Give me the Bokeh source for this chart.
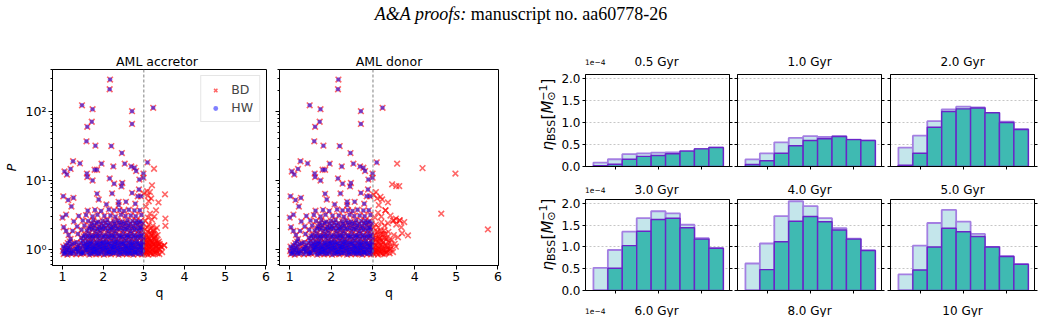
from bokeh.plotting import figure
from bokeh.layouts import column, row
from bokeh.models import (Div, Label, Span, Legend, LegendItem, FixedTicker,
                          CustomJSTickFormatter, LinearAxis)
from bokeh.embed import file_html
from bokeh.resources import INLINE

# ------------------------------------------------------------------ texts
header_italic = "A&amp;A proofs:"
header_plain = "manuscript no. aa60778-26"
scatter_titles = ["AML accretor", "AML donor"]
legend_labels = ["BD", "HW"]

# ------------------------------------------------------------------ scatter data (q, P)
# systems shared by both panels (HW, also BD for q < 3)
hw_q = [
    2.17, 2.16, 1.48, 1.74, 2.71, 3.23, 1.72, 2.71, 1.61, 1.59, 1.81, 2.20, 2.46,
    1.26, 1.43, 1.96, 2.53, 3.09, 2.25, 2.69, 2.77, 1.05, 1.20, 1.11, 1.79, 1.85,
    1.60, 1.61, 2.16, 2.81, 2.99, 2.99, 2.89, 2.47, 2.27, 2.45, 1.74, 2.88, 2.22,
    2.71, 1.02, 1.27, 1.14, 1.89, 2.85, 2.93, 1.85, 2.38, 2.56, 2.79, 2.38, 1.22,
    2.08, 1.09, 1.00, 1.03, 1.09,
    1.03, 1.12, 1.21, 1.34, 1.45, 1.52, 1.66, 1.74, 1.83, 1.91, 2.02, 2.11, 2.19, 2.31, 2.38, 2.47, 2.58, 2.66, 2.74, 2.86, 2.95,
    1.06, 1.17, 1.25, 1.39, 1.48, 1.61, 1.70, 1.79, 1.87, 1.95, 2.07, 2.15, 2.23, 2.27, 2.42, 2.51, 2.55, 2.62, 2.70, 2.78, 2.82, 2.91,
    1.01, 1.08, 1.16, 1.27, 1.38, 1.49, 1.58, 1.69, 1.77, 1.86, 1.97, 2.06, 2.15, 2.24, 2.34, 2.42, 2.53, 2.62, 2.71, 2.79, 2.89, 2.98,
    1.11, 1.22, 1.35, 1.47, 1.60, 1.68, 1.77, 1.85, 1.94, 2.03, 2.12, 2.21, 2.30, 2.39, 2.49, 2.58, 2.67, 2.76, 2.86, 2.96,
    1.05, 1.14, 1.31, 1.43, 1.56, 1.64, 1.73, 1.81, 1.90, 1.99, 2.09, 2.17, 2.27, 2.36, 2.45, 2.55, 2.64, 2.72, 2.82, 2.92,
    1.02, 1.19, 1.36, 1.51, 1.59, 1.67, 1.76, 1.84, 1.93, 2.00, 2.08, 2.19, 2.26, 2.34, 2.43, 2.52, 2.61, 2.69, 2.79, 2.88, 2.97,
    1.09, 1.24, 1.40, 1.53, 1.61, 1.71, 1.79, 1.88, 1.96, 2.04, 2.13, 2.22, 2.30, 2.40, 2.49, 2.57, 2.67, 2.76, 2.85, 2.94,
    1.13, 1.29, 1.45, 1.57, 1.66, 1.74, 1.83, 1.92, 2.00, 2.08, 2.17, 2.26, 2.35, 2.44, 2.53, 2.62, 2.71, 2.80, 2.89, 2.98,
    1.18, 1.35, 1.50, 1.62, 1.70, 1.84, 1.93, 2.01, 2.10, 2.20, 2.29, 2.37, 2.46, 2.56, 2.65, 2.73, 2.83, 2.96,
    1.20, 1.46, 1.57, 1.67, 1.76, 1.87, 1.98, 2.07, 2.16, 2.25, 2.33, 2.43, 2.52, 2.61, 2.70, 2.80, 2.90, 2.99,
    1.52, 1.63, 1.73, 1.82, 1.91, 2.02, 2.12, 2.21, 2.29, 2.39, 2.47, 2.57, 2.66, 2.75, 2.85, 2.94,
    1.15, 1.38, 1.55, 1.65, 1.75, 1.85, 1.94, 2.05, 2.14, 2.23, 2.32, 2.41, 2.50, 2.60, 2.69, 2.78, 2.88, 2.97,
    1.25, 1.47, 1.60, 1.72, 1.81, 1.91, 2.00, 2.11, 2.20, 2.28, 2.38, 2.48, 2.58, 2.67, 2.77, 2.87, 2.95,
    1.66, 1.77, 1.86, 1.96, 2.06, 2.16, 2.25, 2.34, 2.44, 2.54, 2.63, 2.72, 2.82, 2.91,
    1.36, 1.54, 1.68, 1.78, 1.90, 2.02, 2.12, 2.21, 2.31, 2.42, 2.52, 2.62, 2.74, 2.84, 2.93,
    1.72, 1.84, 1.96, 2.07, 2.17, 2.28, 2.39, 2.50, 2.57, 2.67, 2.79, 2.88, 2.97,
    1.28, 1.50, 1.63, 1.76, 1.88, 1.99, 2.10, 2.26, 2.36, 2.47, 2.60, 2.72, 2.82, 2.92,
    1.40, 1.58, 1.74, 1.86, 2.03, 2.18, 2.30, 2.44, 2.55, 2.68, 2.80, 2.94,
    1.62, 1.80, 1.95, 2.14, 2.27, 2.40, 2.51, 2.63, 2.77, 2.90,
]
hw_p = [
    290, 210, 123, 108, 101, 113, 71, 66, 60, 37, 32, 31.5, 25,
    19, 17.7, 17.5, 17.5, 18.3, 16, 16, 15.3, 13.5, 14.7, 12.2, 14.3, 14.3,
    12.6, 11.2, 10.7, 13.7, 12.6, 11.0, 10.3, 9.2, 9.0, 8.2, 10.0, 7.4, 6.5,
    6.6, 5.9, 5.6, 5.2, 5.3, 5.9, 5.9, 6.4, 4.9, 4.9, 4.6, 4.4, 4.2,
    4.5, 3.2, 2.9, 2.1, 1.86,
    0.86, 0.84, 0.87, 0.85, 0.86, 0.88, 0.84, 0.87, 0.85, 0.86, 0.84, 0.87, 0.85, 0.88, 0.84, 0.86, 0.85, 0.87, 0.84, 0.86, 0.85,
    0.89, 0.90, 0.88, 0.91, 0.89, 0.90, 0.88, 0.91, 0.89, 0.90, 0.88, 0.91, 0.89, 0.90, 0.88, 0.91, 0.89, 0.90, 0.88, 0.91, 0.89, 0.90,
    0.95, 0.93, 0.97, 0.94, 0.96, 0.92, 0.98, 0.95, 0.93, 0.97, 0.94, 0.96, 0.92, 0.98, 0.95, 0.93, 0.97, 0.94, 0.96, 0.92, 0.98, 0.95,
    1.00, 0.99, 1.01, 1.00, 0.99, 1.01, 1.00, 0.99, 1.01, 1.00, 0.99, 1.01, 1.00, 0.99, 1.01, 1.00, 0.99, 1.01, 1.00, 0.99,
    1.04, 1.07, 1.02, 1.06, 1.03, 1.08, 1.05, 1.02, 1.07, 1.04, 1.06, 1.03, 1.08, 1.05, 1.02, 1.07, 1.04, 1.06, 1.03, 1.08,
    1.10, 1.11, 1.09, 1.12, 1.10, 1.11, 1.09, 1.12, 1.10, 1.11, 1.09, 1.12, 1.10, 1.11, 1.09, 1.12, 1.10, 1.11, 1.09, 1.12, 1.10,
    1.15, 1.19, 1.14, 1.18, 1.16, 1.20, 1.13, 1.17, 1.21, 1.15, 1.18, 1.14, 1.19, 1.16, 1.20, 1.13, 1.17, 1.15, 1.19, 1.14,
    1.24, 1.23, 1.25, 1.24, 1.23, 1.25, 1.24, 1.23, 1.25, 1.24, 1.23, 1.25, 1.24, 1.23, 1.25, 1.24, 1.23, 1.25, 1.24, 1.23,
    1.30, 1.27, 1.33, 1.29, 1.32, 1.28, 1.34, 1.30, 1.27, 1.33, 1.29, 1.31, 1.28, 1.34, 1.30, 1.27, 1.32, 1.29,
    1.42, 1.47, 1.44, 1.49, 1.43, 1.46, 1.50, 1.42, 1.48, 1.45, 1.41, 1.47, 1.44, 1.49, 1.43, 1.46, 1.48, 1.44,
    1.55, 1.56, 1.54, 1.57, 1.55, 1.56, 1.54, 1.57, 1.55, 1.56, 1.54, 1.57, 1.55, 1.56, 1.54, 1.57,
    1.62, 1.68, 1.64, 1.70, 1.61, 1.66, 1.72, 1.63, 1.69, 1.65, 1.71, 1.62, 1.67, 1.64, 1.70, 1.63, 1.68, 1.66,
    1.86, 1.93, 1.88, 1.95, 1.84, 1.90, 1.97, 1.87, 1.92, 1.85, 1.96, 1.89, 1.94, 1.86, 1.91, 1.88, 1.93,
    2.02, 2.05, 2.00, 2.06, 2.03, 2.01, 2.07, 2.02, 2.04, 2.00, 2.06, 2.03, 2.01, 2.05,
    2.15, 2.22, 2.18, 2.26, 2.13, 2.20, 2.24, 2.16, 2.21, 2.27, 2.17, 2.23, 2.19, 2.25, 2.14,
    2.38, 2.42, 2.36, 2.45, 2.40, 2.37, 2.44, 2.39, 2.43, 2.36, 2.41, 2.46, 2.38,
    2.55, 2.62, 2.58, 2.66, 2.52, 2.60, 2.68, 2.56, 2.63, 2.54, 2.65, 2.59, 2.61, 2.57,
    3.05, 3.15, 3.00, 3.20, 3.08, 3.12, 2.98, 3.18, 3.06, 3.10, 3.03, 3.16,
    3.65, 3.75, 3.60, 3.80, 3.68, 3.72, 3.62, 3.78, 3.66, 3.70,
]
# BD-only systems, AML accretor
bd_acc_q = [
    3.02, 3.06, 3.10, 3.14, 3.18, 3.23, 3.28, 3.33, 3.38, 3.45,
    3.01, 3.05, 3.08, 3.13, 3.17, 3.22, 3.26, 3.31, 3.36,
    3.04, 3.09, 3.15, 3.21, 3.27, 3.32, 3.40,
    3.03, 3.07, 3.12, 3.16, 3.20, 3.25, 3.30, 3.35, 3.42, 3.50,
    3.02, 3.07, 3.11, 3.16, 3.21, 3.25, 3.30, 3.34, 3.39,
    3.05, 3.11, 3.19, 3.24, 3.29, 3.36,
    3.01, 3.05, 3.09, 3.13, 3.17, 3.21, 3.26, 3.31, 3.37,
    3.04, 3.09, 3.14, 3.19, 3.23, 3.28,
    3.02, 3.06, 3.11, 3.15, 3.19, 3.24, 3.29, 3.34,
    3.03, 3.08, 3.12, 3.17, 3.22, 3.27, 3.32,
    3.04, 3.10, 3.15, 3.20, 3.26,
    3.05, 3.12, 3.10, 3.18, 3.00, 3.08,
    3.20, 3.15, 3.36, 3.30, 3.52, 3.53, 3.53, 3.43, 3.50, 3.25,
]
bd_acc_p = [
    0.86, 0.90, 0.84, 0.92, 0.87, 0.85, 0.90, 0.88, 0.86, 0.92,
    0.89, 1.00, 0.91, 1.02, 0.88, 1.01, 0.90, 0.99, 1.03,
    0.95, 0.97, 0.94, 0.98, 0.96, 0.93, 0.99,
    1.05, 1.12, 1.08, 1.15, 1.10, 1.18, 1.06, 1.13, 1.10, 1.15,
    1.09, 1.26, 1.11, 1.35, 1.17, 1.46, 1.12, 1.25, 1.21,
    1.22, 1.20, 1.24, 1.21, 1.23, 1.19,
    1.30, 1.38, 1.26, 1.42, 1.33, 1.28, 1.40, 1.35, 1.30,
    1.48, 1.82, 1.44, 1.68, 1.88, 1.50,
    1.55, 1.65, 1.52, 1.75, 1.60, 1.70, 1.58, 1.62,
    1.95, 2.10, 2.30, 2.00, 2.20, 1.90, 2.05,
    2.60, 2.90, 3.30, 2.70, 3.00,
    4.20, 5.00, 6.00, 5.50, 6.50, 7.00,
    8.50, 6.80, 4.80, 3.70, 6.30, 2.80, 2.20, 1.10, 1.15, 14.8,
]
# BD-only systems, AML donor
bd_don_q = [
    3.02, 3.07, 3.12, 3.17, 3.22, 3.27, 3.33, 3.40, 3.48,
    3.01, 3.05, 3.09, 3.14, 3.19, 3.24, 3.29, 3.35, 3.43,
    3.04, 3.09, 3.15, 3.21, 3.27, 3.32, 3.40,
    3.03, 3.08, 3.13, 3.18, 3.23, 3.29, 3.35, 3.42, 3.55,
    3.03, 3.08, 3.12, 3.17, 3.22, 3.27, 3.33, 3.39, 3.52,
    3.01, 3.06, 3.11, 3.16, 3.21, 3.26, 3.32, 3.38, 3.45, 3.60,
    3.05, 3.10, 3.15, 3.20, 3.26, 3.34,
    3.04, 3.09, 3.14, 3.19, 3.24, 3.30, 3.37, 3.50, 3.70,
    3.02, 3.07, 3.13, 3.20, 3.28, 3.36, 3.48, 3.56, 3.64,
    3.05, 3.12, 3.20, 3.30, 3.42, 3.55,
    3.07, 3.18, 3.36, 3.10, 3.02, 3.14, 3.22,
    3.58, 4.19, 4.98, 3.46, 3.56, 3.63, 4.64, 5.76, 3.84, 3.64, 3.50, 3.30, 3.75, 3.68,
]
bd_don_p = [
    0.86, 0.90, 0.84, 0.92, 0.87, 0.85, 0.90, 0.88, 0.92,
    0.89, 1.00, 0.91, 1.02, 0.88, 1.01, 0.90, 0.99, 1.03,
    0.95, 0.97, 0.94, 0.98, 0.96, 0.93, 0.99,
    1.08, 1.14, 1.05, 1.18, 1.10, 1.15, 1.07, 1.12, 1.10,
    1.09, 1.26, 1.11, 1.35, 1.17, 1.46, 1.12, 1.25, 1.21,
    1.30, 1.40, 1.27, 1.45, 1.35, 1.28, 1.42, 1.33, 1.38, 1.50,
    1.48, 1.82, 1.44, 1.68, 1.88, 1.50,
    1.60, 1.75, 1.55, 1.85, 1.65, 1.70, 1.80, 1.62, 1.72,
    2.05, 2.30, 2.10, 2.50, 2.20, 2.40, 2.60, 2.30, 2.65,
    2.90, 3.40, 3.00, 3.70, 3.10, 2.80,
    6.80, 5.80, 4.80, 5.50, 6.20, 4.40, 5.30,
    17.5, 15.1, 12.6, 8.8, 8.3, 8.3, 3.3, 1.95, 1.6, 2.65, 2.65, 3.7, 2.5, 2.1,
]
q_split = 3.0
q_ticks = [1, 2, 3, 4, 5, 6]
q_tick_labels = ["1", "2", "3", "4", "5", "6"]
p_ticks = [1, 10, 100]
p_tick_labels = ["10\u2070", "10\u00b9", "10\u00b2"]

# ------------------------------------------------------------------ histogram data (units of 1e-4 per Msun)
ages = ["0.5 Gyr", "1.0 Gyr", "2.0 Gyr", "3.0 Gyr", "4.0 Gyr", "5.0 Gyr"]
ages_bottom = ["6.0 Gyr", "8.0 Gyr", "10 Gyr"]
bins = [0, 1, 2, 3, 4, 5, 6, 7, 8]
eta_light = [
    [0.09, 0.165, 0.28, 0.30, 0.315, 0.32, 0.35, 0.40, 0.43],
    [0.16, 0.30, 0.55, 0.65, 0.69, 0.67, 0.69, 0.61, 0.59],
    [0.43, 0.70, 1.03, 1.30, 1.36, 1.34, 1.22, 1.02, 0.85],
    [0.52, 0.93, 1.35, 1.66, 1.82, 1.77, 1.51, 1.20, 0.97],
    [0.62, 1.08, 1.71, 2.05, 1.94, 1.66, 1.43, 1.19, 0.92],
    [0.37, 1.03, 1.55, 1.85, 1.58, 1.30, 1.00, 0.79, 0.61],
]
eta_teal = [
    [0.02, 0.05, 0.165, 0.23, 0.25, 0.29, 0.35, 0.40, 0.43],
    [0.045, 0.13, 0.30, 0.47, 0.59, 0.63, 0.68, 0.61, 0.59],
    [0.03, 0.30, 0.89, 1.25, 1.31, 1.33, 1.22, 1.00, 0.84],
    [0.0, 0.51, 1.03, 1.36, 1.63, 1.66, 1.44, 1.18, 0.97],
    [0.0, 0.48, 1.12, 1.59, 1.70, 1.58, 1.39, 1.18, 0.92],
    [0.0, 0.47, 1.00, 1.43, 1.35, 1.24, 1.00, 0.78, 0.60],
]
hist_yticks = [0.0, 0.5, 1.0, 1.5, 2.0]
hist_ytick_labels = ["0.0", "0.5", "1.0", "1.5", "2.0"]
hist_xticks = [1, 4, 7]
offset_text = "1e\u22124"

# ------------------------------------------------------------------ styles
FONT = "DejaVu Sans"
LIGHT_FILL = "#c4e6eb"
LIGHT_EDGE = "#a47fe2"
TEAL_FILL = "#3fbab2"
TEAL_EDGE = "#6a24c8"


def label_formatter(tick_values, tick_texts):
    return CustomJSTickFormatter(
        args=dict(tv=list(tick_values), tt=list(tick_texts)),
        code="const i = tv.indexOf(tick); return i >= 0 ? tt[i] : '';")


def empty_formatter():
    return CustomJSTickFormatter(code="return '';")


def style_axis(ax, labelled, size, tick_out=4):
    ax.axis_line_color = "black"
    ax.axis_line_width = 1
    ax.major_tick_line_color = "black"
    ax.major_tick_in = 0
    ax.major_tick_out = tick_out
    ax.minor_tick_line_color = None
    ax.major_label_text_font = FONT
    ax.major_label_text_font_size = size if labelled else "0px"
    ax.major_label_text_color = "black"
    ax.major_label_standoff = 2 if labelled else 0
    ax.axis_label_text_font = FONT
    ax.axis_label_text_color = "black"


def base_fig(width, height, bl, br, bt, bb, **kw):
    p = figure(width=width, height=height, min_border_left=bl, min_border_right=br,
               min_border_top=bt, min_border_bottom=bb, output_backend="svg",
               toolbar_location=None, **kw)
    p.outline_line_color = "black"
    p.outline_line_width = 1
    p.background_fill_color = "white"
    p.border_fill_color = "white"
    return p


def strip(width, height):
    """A bare text band: its frame is the whole canvas, so texts are never clipped."""
    p = figure(width=width, height=height, min_border_left=0, min_border_right=0,
               min_border_top=0, min_border_bottom=0, x_axis_location=None,
               y_axis_location=None, toolbar_location=None, output_backend="svg",
               x_range=(0, width), y_range=(0, height))
    p.outline_line_color = None
    p.grid.visible = False
    p.background_fill_color = "white"
    p.border_fill_color = "white"
    return p


def put_text(p, x, y, text, size, align="center", baseline="alphabetic",
             angle=0, style="normal"):
    p.add_layout(Label(x=x, y=y, x_units="screen", y_units="screen", text=text,
                       text_align=align, text_baseline=baseline, angle=angle,
                       angle_units="deg", text_font=FONT, text_font_size=size,
                       text_font_style=style, text_color="black"))


# ------------------------------------------------------------------ scatter panels
SC_H, SC_FW, SC_FH = 253, 219, 196
p_minor = [m * 10.0 ** e for e in (-1, 0, 1, 2) for m in range(2, 10)]


def scatter_panel(extra_q, extra_p, width, bl, br, first):
    p = base_fig(width, SC_H, bl, br, 1, 56, x_range=(0.755, 6.015),
                 y_range=(0.586, 406), y_axis_type="log")
    p.xgrid.visible = False
    p.ygrid.visible = False
    r_bd = p.scatter(x=hw_q + extra_q, y=hw_p + extra_p, marker="x", size=8,
                     line_color="red", line_alpha=0.6, line_width=1.6)
    r_hw = p.scatter(x=hw_q, y=hw_p, marker="circle", size=4.5, fill_color="blue",
                     fill_alpha=0.5, line_color=None)
    p.add_layout(Span(location=q_split, dimension="height", line_color="#808080",
                      line_dash="3 2", line_width=1))
    xa = p.xaxis[0]
    style_axis(xa, True, "12.5px")
    xa.ticker = FixedTicker(ticks=q_ticks)
    xa.formatter = label_formatter(q_ticks, q_tick_labels)
    xa.axis_label = "q"
    xa.axis_label_text_font_size = "12.5px"
    xa.axis_label_text_font_style = "normal"
    xa.axis_label_standoff = 1
    ya = p.yaxis[0]
    style_axis(ya, first, "12.5px")
    ya.ticker = FixedTicker(ticks=p_ticks, minor_ticks=p_minor)
    ya.minor_tick_line_color = "black"
    ya.minor_tick_in = 0
    ya.minor_tick_out = 2
    if first:
        ya.formatter = label_formatter(p_ticks, p_tick_labels)
        ya.axis_label = "P"
        ya.axis_label_text_font_size = "12.5px"
        ya.axis_label_text_font_style = "italic"
        ya.axis_label_standoff = 4
        legend = Legend(items=[LegendItem(label=legend_labels[0], renderers=[r_bd]),
                               LegendItem(label=legend_labels[1], renderers=[r_hw])],
                        location="top_right")
        legend.label_text_font = FONT
        legend.label_text_font_size = "12.5px"
        legend.border_line_color = "#cccccc"
        legend.background_fill_alpha = 0.8
        legend.margin = 6
        legend.padding = 6
        legend.spacing = 3
        legend.glyph_width = 16
        legend.glyph_height = 12
        legend.label_height = 12
        legend.label_standoff = 8
        p.add_layout(legend)
    else:
        ya.formatter = empty_formatter()
    return p


SC_COLS = [(272, 47, 6), (264, 7, 38)]   # width, left border, right border
LEFT_W = sum(c[0] for c in SC_COLS)
s1 = scatter_panel(bd_acc_q, bd_acc_p, *SC_COLS[0], True)
s2 = scatter_panel(bd_don_q, bd_don_p, *SC_COLS[1], False)

sc_titles = strip(LEFT_W, 28)
x0 = 0
for (w, bl, br), title in zip(SC_COLS, scatter_titles):
    put_text(sc_titles, x0 + bl + SC_FW / 2, 7, title, "12.5px")
    x0 += w
left_block = column(sc_titles, row(s1, s2))

# ------------------------------------------------------------------ histogram panels
COLS = [(175, 25, 4, 146), (152, 4, 4, 144), (157, 5, 8, 144)]   # width, left, right, frame
ROWS = [(103, 1, 10, 92), (102, 1, 10, 91)]                    # height, top, bottom, frame
GRID_W = sum(c[0] for c in COLS)


def hist_panel(k, ci, ri):
    width, bl, br, fw = COLS[ci]
    height, bt, bb, fh = ROWS[ri]
    p = base_fig(width, height, bl, br, bt, bb, x_range=(-1.05, 8.93), y_range=(0, 2.09))
    p.xgrid.visible = False
    p.ygrid.ticker = FixedTicker(ticks=hist_yticks)
    p.ygrid.grid_line_color = "#b8b8b8"
    p.ygrid.grid_line_dash = "2 2"
    p.ygrid.grid_line_width = 0.8
    p.vbar(x=bins, top=eta_light[k], width=1.0, bottom=0, fill_color=LIGHT_FILL,
           line_color=LIGHT_EDGE, line_width=1.8)
    p.vbar(x=bins, top=eta_teal[k], width=1.0, bottom=0, fill_color=TEAL_FILL,
           line_color=TEAL_EDGE, line_width=1.4)
    xa = p.xaxis[0]
    style_axis(xa, False, "12px", 3)
    xa.ticker = FixedTicker(ticks=hist_xticks)
    xa.formatter = empty_formatter()
    ya = p.yaxis[0]
    style_axis(ya, ci == 0, "12px", 3)
    ya.ticker = FixedTicker(ticks=hist_yticks)
    ya.formatter = (label_formatter(hist_yticks, hist_ytick_labels) if ci == 0
                    else empty_formatter())
    ra = LinearAxis(ticker=FixedTicker(ticks=hist_yticks), formatter=empty_formatter())
    style_axis(ra, False, "12px", 3)
    p.add_layout(ra, "right")
    return p


def stub_panel(ci):
    # third row of histograms: only the top edge of its frames falls inside the page
    width, bl, br, fw = COLS[ci]
    box = ('<div style="margin:2px 0 0 %dpx;width:%dpx;height:2px;box-sizing:border-box;'
           'border-top:1px solid black;border-left:1px solid black;'
           'border-right:1px solid black;"></div>' % (bl, fw + 1))
    return Div(text=box, width=width, height=4, margin=0)


def title_strip(height, texts, y):
    s = strip(GRID_W, height)
    x0 = 0
    for ci, (w, bl, br, fw) in enumerate(COLS):
        if ci == 0:
            put_text(s, x0 + bl + 1.5, y, offset_text, "7.5px", align="left")
        put_text(s, x0 + bl + fw / 2, y, texts[ci], "12px")
        x0 += w
    return s


grid = column(
    title_strip(33, ages[0:3], 12),
    row(*[hist_panel(c, c, 0) for c in range(3)]),
    title_strip(22, ages[3:6], 9),
    row(*[hist_panel(3 + c, c, 1) for c in range(3)]),
    title_strip(17, ages_bottom, 7),
    row(*[stub_panel(c) for c in range(3)]),
)

# y-axis label of the first histogram column, built from pieces (eta_BSS [M_sun^-1])
ETA_W = 1042 - LEFT_W - GRID_W
eta_strip = strip(ETA_W, 281)


def eta_label(p, y):
    xc = ETA_W - 10.5
    parts = [("\u03b7", "15px", 0.0, "italic", 9.5),
             ("BSS", "11px", 3.4, "normal", 21.5),
             ("[", "15px", 0.0, "normal", 5.9),
             ("M", "15px", 0.0, "italic", 12.9),
             ("\u2299", "11px", 3.6, "normal", 0.0),
             ("\u22121", "11px", -4.8, "normal", 16.2),
             ("]", "15px", 0.0, "normal", 5.9)]
    for text, size, dx, style, adv in parts:
        put_text(p, xc + dx, y, text, size, align="left", baseline="middle",
                 angle=90, style=style)
        y += adv


eta_label(eta_strip, 171)
eta_label(eta_strip, 51)

right_block = row(eta_strip, grid)

header = Div(text=('<div style="font-family:\'Liberation Serif\',serif;font-size:18px;'
                   'text-align:center;width:1042px;padding-top:2px;color:black;">'
                   '<i>' + header_italic + '</i> ' + header_plain + '</div>'),
             width=1042, height=40, margin=0)

root = column(header, row(left_block, right_block))

open("out.html", "w").write(file_html(root, INLINE))
